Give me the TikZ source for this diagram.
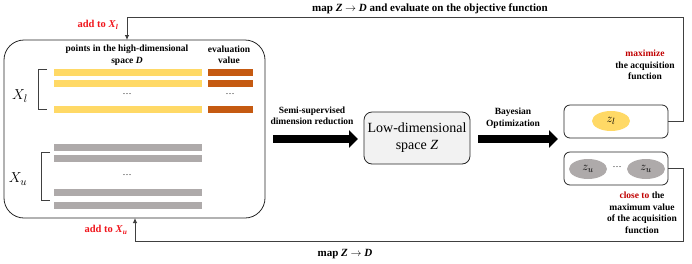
\documentclass[tikz,border=0pt]{standalone}
\usepackage{fontspec}
\setmainfont{Liberation Serif}
\usetikzlibrary{arrows.meta,calc,shapes.geometric}
\definecolor{barYel}{HTML}{FFD966}
\definecolor{barOra}{HTML}{C55A11}
\definecolor{barGry}{HTML}{AEAAAA}
\definecolor{lowfill}{HTML}{F2F2F2}
\definecolor{redtxt}{HTML}{F0141B}
\definecolor{darkred}{HTML}{C00000}
\definecolor{linec}{HTML}{404040}
\begin{document}
\begin{tikzpicture}[x=1pt,y=-1pt,
  lbl/.style={font=\fontsize{9.5}{11.5}\selectfont\bfseries, align=center, inner sep=0pt},
  conn/.style={draw=linec, line width=0.8pt, -{Latex[length=5pt,width=4.5pt]}},
  rbox/.style={draw=black!85, line width=0.8pt, rounded corners=6pt, minimum width=104pt, minimum height=33pt, inner sep=0pt},
  bigarrow/.style={line width=8pt, -{Triangle[length=9pt,width=17pt]}},
  zell/.style={ellipse, minimum width=38pt, minimum height=20pt, inner sep=0pt}
]
\useasboundingbox (0,0) rectangle (692,263);

% big box
\node[draw=black!85, line width=0.8pt, rounded corners=20pt, minimum width=261pt, minimum height=178pt, inner sep=0pt] (big) at (134.5,129) {};
\node[lbl] (ptsD) at (127,55) {points in the high-dimensional\\space \textit{D}};
\node[lbl] (evalv) at (229,55) {evaluation\\value};

% labelled bars
\foreach \yy in {69,80,106}{
  \fill[fill=barYel] (54,\yy) rectangle (202,\yy+6.5);
  \fill[fill=barOra] (208,\yy) rectangle (253,\yy+6.5);
}
\node[font=\fontsize{9}{9}\selectfont] (dl1) at (127,94) {\dots};
\node[font=\fontsize{9}{9}\selectfont] (dl2) at (230,94) {\dots};
\draw[black!75, line width=0.8pt] (47,69) -- (38,69) -- (38,109) -- (47,109);
\node[font=\fontsize{15}{15}\selectfont] (xl) at (20,96) {$X_l$};

% unlabelled bars
\foreach \yy in {144,155,189,202}{
  \fill[fill=barGry] (54,\yy) rectangle (202,\yy+6.5);
}
\node[font=\fontsize{9}{9}\selectfont] (du) at (127,175) {\dots};
\draw[black!75, line width=0.8pt] (50,152) -- (41,152) -- (41,200) -- (50,200);
\node[font=\fontsize{15}{15}\selectfont] (xu) at (18,179) {$X_u$};

% low-dimensional space
\node[draw=black!85, line width=0.8pt, fill=lowfill, rounded corners=8pt, minimum width=106pt, minimum height=52pt, align=center, inner sep=0pt, font=\fontsize{14}{17}\selectfont] (low) at (417,138) {Low-dimensional\\space \textit{Z}};

% big arrows
\coordinate (a1s) at (273,139);
\coordinate (a1e) at (358,139);
\draw[bigarrow] (a1s) -- (a1e);
\node[lbl] (ssl) at (312,116) {Semi-supervised\\dimension reduction};
\coordinate (a2s) at (478,139);
\coordinate (a2e) at (558,139);
\draw[bigarrow] (a2s) -- (a2e);
\node[lbl] (bol) at (513,118) {Bayesian\\Optimization};

% z boxes
\node[rbox] (zl) at (616,121.5) {};
\node[zell, fill=barYel, font=\fontsize{13}{13}\selectfont] (zle) at (611,121) {$z_l$};
\node[rbox] (zu) at (616,168.5) {};
\node[zell, fill=barGry, font=\fontsize{13}{13}\selectfont] (zu1) at (588,169) {$z_u$};
\node[zell, fill=barGry, font=\fontsize{13}{13}\selectfont] (zu2) at (646,169) {$z_u$};
\node[font=\fontsize{9}{9}\selectfont] (dz) at (617,167) {\dots};

\node[lbl] (acql) at (645,65) {\textcolor{darkred}{maximize}\\the acquisition\\function};
\node[lbl] (closel) at (642,213) {\textcolor{darkred}{close to} the\\maximum value\\of the acquisition\\function};

% feedback connectors
\coordinate (tr) at (683,17);
\coordinate (inl) at (127,40);
\draw[conn] (zl.east) -| (tr) -| (inl);
\coordinate (br) at (683,241);
\coordinate (inu) at (135,218);
\draw[conn] (zu.east) -| (br) -| (inu);

\node[lbl, font=\fontsize{11}{12}\selectfont\bfseries] (topl) at (430,8.5) {map \textit{Z} $\rightarrow$ \textit{D} and evaluate on the objective function};
\node[lbl, font=\fontsize{11}{12}\selectfont\bfseries] (botl) at (345,254) {map \textit{Z} $\rightarrow$ \textit{D}};
\node[lbl, text=redtxt, font=\fontsize{10.5}{11}\selectfont\bfseries] (addl) at (98,25) {add to \textit{X}\textsubscript{\textit{l}}};
\node[lbl, text=redtxt, font=\fontsize{10.5}{11}\selectfont\bfseries] (addu) at (106,230) {add to \textit{X}\textsubscript{\textit{u}}};
\end{tikzpicture}
\end{document}
